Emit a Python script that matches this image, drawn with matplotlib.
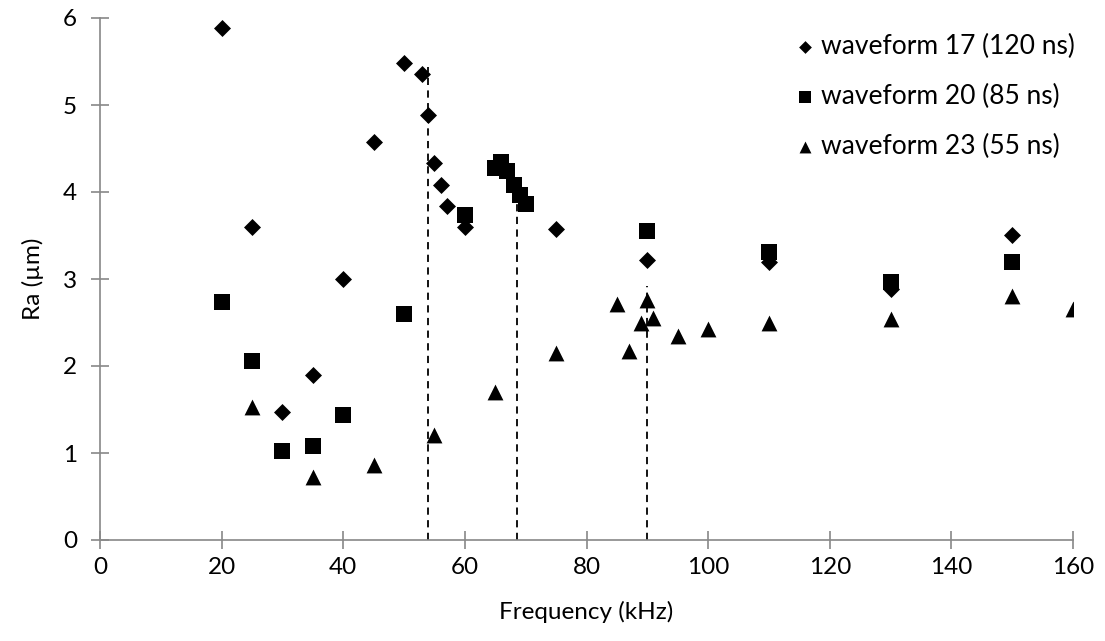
import matplotlib
matplotlib.use('Agg')
import matplotlib.pyplot as plt

# ── data ─────────────────────────────────────────────────────────────────────
f17  = [20, 25, 30, 35, 40, 45, 50, 53, 54, 55, 56, 57, 60, 75, 90, 110, 130, 150]
ra17 = [5.88, 3.6, 1.47, 1.9, 3.0, 4.58, 5.48, 5.36, 4.88, 4.33, 4.08, 3.84, 3.6,
        3.58, 3.22, 3.2, 2.88, 3.51]

f20  = [20, 25, 30, 35, 40, 50, 60, 65, 66, 67, 68, 69, 70, 90, 110, 130, 150]
ra20 = [2.74, 2.06, 1.02, 1.08, 1.44, 2.6, 3.73, 4.28, 4.35, 4.24, 4.08, 3.97,
        3.86, 3.55, 3.31, 2.97, 3.19]

f23  = [25, 35, 45, 55, 65, 75, 85, 87, 89, 90, 91, 95, 100, 110, 130, 150, 160]
ra23 = [1.53, 0.72, 0.86, 1.21, 1.7, 2.15, 2.71, 2.17, 2.49, 2.76, 2.55, 2.34,
        2.43, 2.49, 2.54, 2.81, 2.65]

vline_x   = [54, 68.5, 90]
vline_top = [5.44, 3.86, 2.92]

labels = ['waveform 17 (120 ns)', 'waveform 20 (85 ns)', 'waveform 23 (55 ns)']

plt.rcParams['font.family'] = ['Lato', 'DejaVu Sans']

fig = plt.figure(figsize=(11.05, 6.41), dpi=100)
ax = fig.add_axes([100 / 1105, 1 - 540 / 641, 973 / 1105, 522 / 641])

ax.scatter(f17, ra17, marker='D', s=75, color='black', lw=0, label=labels[0], zorder=3)
ax.scatter(f20, ra20, marker='s', s=120, color='black', lw=0, label=labels[1], zorder=3)
ax.scatter(f23, ra23, marker='^', s=130, color='black', lw=0, label=labels[2], zorder=3)

for x, top in zip(vline_x, vline_top):
    ax.plot([x, x], [0, top], ls=(0, (4, 3)), color='black', lw=1.3, zorder=2)

ax.set_xlim(0, 160)
ax.set_ylim(0, 6)
ax.set_xticks(range(0, 161, 20))
ax.set_yticks(range(0, 7))
for sp in ['top', 'right']:
    ax.spines[sp].set_visible(False)
for sp in ['left', 'bottom']:
    ax.spines[sp].set_color('#888888')
    ax.spines[sp].set_linewidth(1.2)
ax.tick_params(direction='inout', length=13, width=1.2, color='#888888',
               labelsize=17.5)
ax.tick_params(axis='x', pad=6)
ax.tick_params(axis='y', pad=10)

ax.set_xlabel('Frequency (kHz)', fontsize=17.5, labelpad=16)
ax.set_ylabel('Ra (µm)', fontsize=17.5, labelpad=14)

leg = ax.legend(loc='upper right', bbox_to_anchor=(1.018, 1.0), frameon=False,
                fontsize=19, handletextpad=0.0, labelspacing=0.95,
                markerscale=0.75, borderaxespad=0.2, handlelength=1.2)

fig.savefig('out.png', dpi=100)
